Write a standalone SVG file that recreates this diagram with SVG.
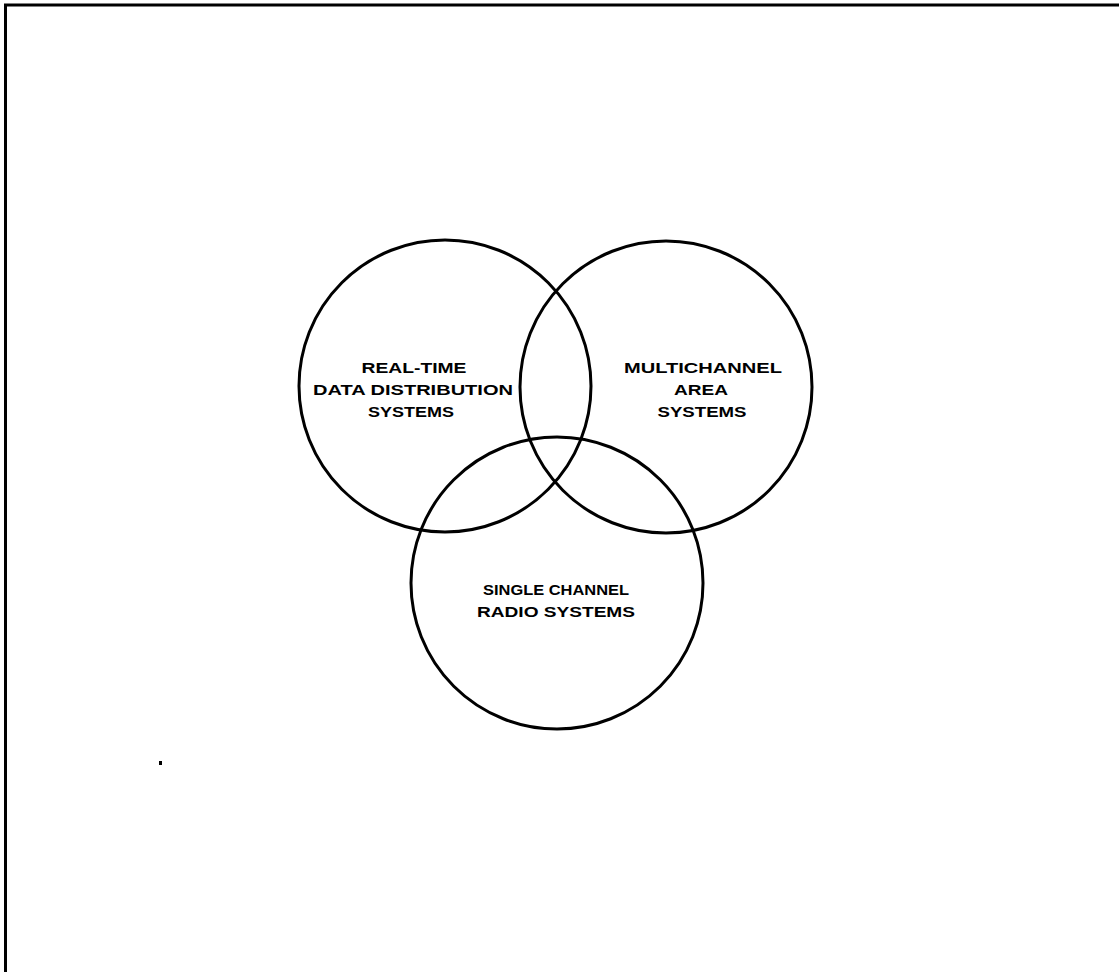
<svg xmlns="http://www.w3.org/2000/svg" width="1119" height="972" viewBox="0 0 1119 972">
<style>
.frame{stroke:#000;stroke-width:3;fill:none}
.c{fill:none;stroke:#000;stroke-width:3}
.t{font-family:"Liberation Sans",Arial,sans-serif;font-weight:bold;font-size:15px;fill:#000;text-anchor:middle}
</style>
<rect width="1119" height="972" fill="#fff"/>
<g id="frame">
<path class="frame" d="M5.5,972 L5.5,5 L1119,5"/>
</g>
<g id="node-realtime">
<circle class="c" cx="445" cy="386" r="146"/>
<text class="t" x="414" y="373" textLength="105" lengthAdjust="spacingAndGlyphs">REAL-TIME</text>
<text class="t" x="413" y="395" textLength="200" lengthAdjust="spacingAndGlyphs">DATA DISTRIBUTION</text>
<text class="t" x="411" y="417" textLength="86" lengthAdjust="spacingAndGlyphs">SYSTEMS</text>
</g>
<g id="node-multichannel">
<circle class="c" cx="666" cy="387" r="146"/>
<text class="t" x="703" y="373" textLength="158" lengthAdjust="spacingAndGlyphs">MULTICHANNEL</text>
<text class="t" x="701" y="395" textLength="54" lengthAdjust="spacingAndGlyphs">AREA</text>
<text class="t" x="702" y="417" textLength="89" lengthAdjust="spacingAndGlyphs">SYSTEMS</text>
</g>
<g id="node-singlechannel">
<circle class="c" cx="557" cy="583" r="146"/>
<text class="t" x="556" y="595" textLength="146" lengthAdjust="spacingAndGlyphs">SINGLE CHANNEL</text>
<text class="t" x="556" y="617" textLength="158" lengthAdjust="spacingAndGlyphs">RADIO SYSTEMS</text>
</g>
<g id="connectors"/>
<g id="specks">
<rect x="159" y="761" width="3" height="4" fill="#000"/>
</g>
</svg>
